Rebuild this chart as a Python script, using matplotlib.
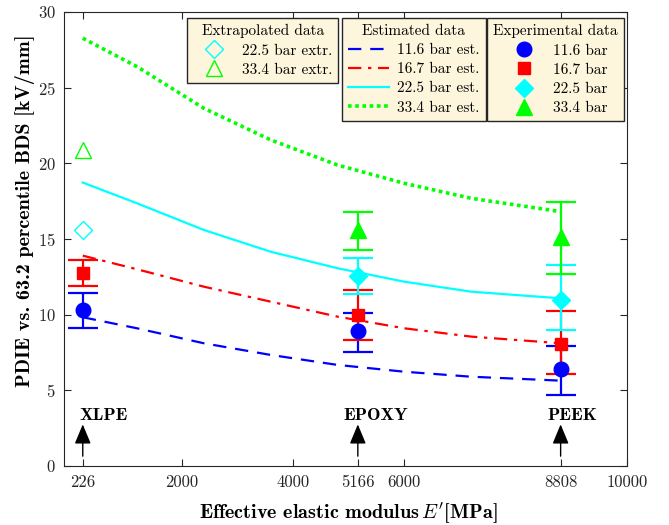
import numpy as np
import matplotlib
matplotlib.use("Agg")
import matplotlib.pyplot as plt
from matplotlib.lines import Line2D

plt.rcParams['font.family'] = ['cmr10', 'DejaVu Serif']
plt.rcParams['mathtext.fontset'] = 'cm'
plt.rcParams['axes.formatter.use_mathtext'] = True

# ---------------- data ----------------
materials = ['XLPE', 'EPOXY', 'PEEK']
mat_x = [226, 5166, 8808]
mat_label_x = [159, 4913, 8568]

# experimental (mean, lower, upper)
exp_116 = [10.3, 8.9, 6.4]
exp_116_lo = [9.1, 7.56, 4.7]
exp_116_hi = [11.4, 10.1, 7.95]

exp_167 = [12.75, 10.0, 8.05]
exp_167_lo = [11.9, 8.33, 6.06]
exp_167_hi = [13.6, 11.63, 10.24]

exp_x_hi = [5166, 8808]
exp_225 = [12.55, 11.0]
exp_225_lo = [11.35, 9.0]
exp_225_hi = [13.75, 13.28]

exp_334 = [15.6, 15.16]
exp_334_lo = [14.25, 12.67]
exp_334_hi = [16.8, 17.47]

# extrapolated at XLPE
extr_x = [226]
extr_225 = [15.6]
extr_334 = [20.9]

# estimated curves
est_x = [226, 1200, 2400, 3600, 4800, 6000, 7200, 8808]
est_116 = [9.83, 9.10, 8.11, 7.34, 6.68, 6.23, 5.90, 5.64]
est_167 = [13.90, 13.00, 11.85, 10.86, 9.87, 9.10, 8.55, 8.11]
est_225 = [18.73, 17.36, 15.60, 14.16, 13.07, 12.18, 11.52, 11.08]
est_334 = [28.27, 26.39, 23.64, 21.55, 19.89, 18.68, 17.69, 16.81]

xticks = [226, 2000, 4000, 5166, 6000, 8808, 10000]
yticks = [0, 5, 10, 15, 20, 25, 30]

BLUE, RED, CYAN, GREEN = (0, 0, 1), (1, 0, 0), (0, 1, 1), (0, 1, 0)
DARK = (0.15, 0.15, 0.15)

W, H = 669, 525
fig = plt.figure(figsize=(W/100, H/100), dpi=100)
AX_L, AX_R, AX_T, AX_B = 64, 627, 12, 466
ax = fig.add_axes([AX_L/W, (H-AX_B)/H, (AX_R-AX_L)/W, (AX_B-AX_T)/H])

# estimated curves
l1, = ax.plot(est_x, est_116, color=BLUE, ls=(0, (6, 4)), lw=1.6)
l2, = ax.plot(est_x, est_167, color=RED, ls=(0, (6, 3, 1.5, 3)), lw=1.6)
l3, = ax.plot(est_x, est_225, color=CYAN, ls='-', lw=1.6)
l4, = ax.plot(est_x, est_334, color=GREEN, ls=(0, (1, 1)), lw=2.6)

ekw = dict(capsize=11, elinewidth=1.6, capthick=1.6, ls='none')

def eb(x, y, lo, hi, color, marker, ms):
    y = np.array(y); lo = np.array(lo); hi = np.array(hi)
    ax.errorbar(x, y, yerr=[y - lo, hi - y], color=color, marker=marker,
                ms=ms, mfc=color, mec=color, **ekw)

eb(mat_x, exp_116, exp_116_lo, exp_116_hi, BLUE, 'o', 10.5)
eb(mat_x, exp_167, exp_167_lo, exp_167_hi, RED, 's', 8)
eb(exp_x_hi, exp_225, exp_225_lo, exp_225_hi, CYAN, 'D', 9)
eb(exp_x_hi, exp_334, exp_334_lo, exp_334_hi, GREEN, '^', 11)

# extrapolated
ax.plot(extr_x, extr_225, ls='none', marker='D', ms=9, mfc='none', mec=CYAN, mew=1)
ax.plot(extr_x, extr_334, ls='none', marker='^', ms=11, mfc='none', mec=GREEN, mew=1)

# material annotations
for name, x, lx in zip(materials, mat_x, mat_label_x):
    ax.annotate('', xy=(x, 2.75), xytext=(x, 0.65),
                arrowprops=dict(arrowstyle='-|>,head_length=1.2,head_width=0.5',
                                color='k', lw=1, mutation_scale=10, shrinkA=0, shrinkB=0))
    ax.text(lx, 3.35, name, fontfamily='cmb10', fontsize=13,
            ha='left', va='center')

ax.set_xlim(-111, 10000)
ax.set_ylim(0, 30)
ax.set_xticks(xticks)
ax.set_xticklabels([str(t) for t in xticks])
ax.set_yticks(yticks)
ax.tick_params(direction='in', top=True, right=True, length=5, width=0.8,
               labelsize=12, colors=DARK, pad=6)
for s in ax.spines.values():
    s.set_color(DARK)
    s.set_linewidth(0.8)

fig.text(348.5/W, 1 - 513/H, r"Effective elastic modulus$\,E'$[MPa]", fontfamily='cmb10',
         fontsize=14.5, ha='center', va='center')
fig.text(25/W, 1 - 211/H, 'PDIE vs. 63.2 percentile BDS [kV/mm]', fontfamily='cmb10',
         fontsize=14.5, ha='center', va='center', rotation=90)

# legends
FACE = '#FDF6DC'
lkw = dict(loc='upper left', fontsize=11, title_fontsize=11, frameon=True,
           fancybox=False, framealpha=1, facecolor=FACE, edgecolor=DARK,
           handlelength=2.7, handletextpad=0.5, labelspacing=0.36, borderpad=0.4,
           borderaxespad=0)

def axfrac(px, py):
    return ((px - AX_L) / (AX_R - AX_L), (AX_B - py) / (AX_B - AX_T))

h_ex = [Line2D([], [], ls='none', marker='D', ms=9, mfc='none', mec=CYAN),
        Line2D([], [], ls='none', marker='^', ms=11, mfc='none', mec=GREEN)]
leg1 = ax.legend(h_ex, ['22.5 bar extr.', '33.4 bar extr.'], title='Extrapolated data',
                 bbox_to_anchor=axfrac(187, 18), **lkw)
ax.add_artist(leg1)

leg2 = ax.legend([l1, l2, l3, l4], ['11.6 bar est.', '16.7 bar est.', '22.5 bar est.',
                                    '33.4 bar est.'], title='Estimated data',
                 bbox_to_anchor=axfrac(342, 18), **lkw)
ax.add_artist(leg2)

h_exp = [Line2D([], [], ls='none', marker='o', ms=10.5, color=BLUE),
         Line2D([], [], ls='none', marker='s', ms=8, color=RED),
         Line2D([], [], ls='none', marker='D', ms=9, color=CYAN),
         Line2D([], [], ls='none', marker='^', ms=11, color=GREEN)]
leg3 = ax.legend(h_exp, ['11.6 bar', '16.7 bar', '22.5 bar', '33.4 bar'],
                 title='Experimental data', bbox_to_anchor=axfrac(487, 18), **lkw)

for lg in (leg1, leg2, leg3):
    lg.get_frame().set_linewidth(1.0)

fig.savefig('out.png', dpi=100)
